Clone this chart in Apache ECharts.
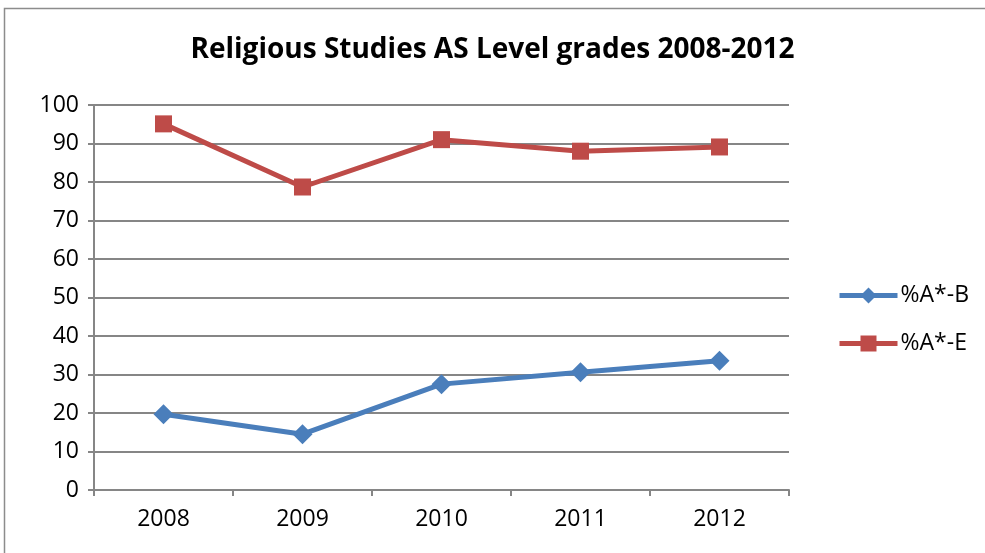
<!DOCTYPE html>
<html><head><meta charset="utf-8">
<script src="https://cdn.jsdelivr.net/npm/echarts@6/dist/echarts.min.js"></script>
<style>html,body{margin:0;padding:0;background:#fff}#c{width:985px;height:553px}</style>
</head><body><div id="c"></div>
<script>
const categories = ['2008','2009','2010','2011','2012'];
const seriesB = [19.7, 14.5, 27.5, 30.6, 33.6];
const seriesE = [95.1, 78.7, 91.0, 88.0, 89.1];
const yTicks = [0,10,20,30,40,50,60,70,80,90,100];
const nameB = '%A*-B';
const nameE = '%A*-E';

const font = 'Open Sans';
const blue = '#4A7EBB', red = '#BE4B48';
const chart = echarts.init(document.getElementById('c'));
chart.setOption({
  animation: false,
  backgroundColor: '#fff',
  graphic: [{type:'rect', shape:{x:4.5,y:8.5,width:1000,height:600}, style:{fill:'none', stroke:'#8c8c8c', lineWidth:1.5}}],
  title: {text:'Religious Studies AS Level grades 2008-2012', left:'center', top:31,
    textStyle:{fontFamily:font, fontWeight:'bold', fontSize:28, color:'#000'}},
  legend: {orient:'vertical', left:832, top:279, itemGap:25, itemWidth:58, itemHeight:20,
    lineStyle:{width:5},
    textStyle:{fontFamily:font, fontSize:23, color:'#000', padding:[0,0,0,-2]},
    data:[nameB, nameE]},
  grid: {left:94, right:196, top:105, bottom:63},
  xAxis: {type:'category', data:categories, boundaryGap:true,
    axisLine:{lineStyle:{color:'#868686', width:2}},
    axisTick:{show:true, length:6, lineStyle:{color:'#868686', width:2}},
    axisLabel:{fontFamily:font, fontSize:23, color:'#000', margin:18}},
  yAxis: {type:'value', min:yTicks[0], max:yTicks[yTicks.length-1], interval:10,
    axisLine:{show:true, lineStyle:{color:'#868686', width:2}},
    axisTick:{show:true, length:6, lineStyle:{color:'#868686', width:2}},
    splitLine:{lineStyle:{color:'#868686', width:2}},
    axisLabel:{fontFamily:font, fontSize:23, color:'#000', margin:15}},
  series: [
    {name:nameB, type:'line', data:seriesB, symbol:'diamond', symbolSize:20,
      lineStyle:{color:blue, width:5}, itemStyle:{color:blue}},
    {name:nameE, type:'line', data:seriesE, symbol:'rect', symbolSize:17,
      lineStyle:{color:red, width:5}, itemStyle:{color:red}}
  ]
});
</script></body></html>
